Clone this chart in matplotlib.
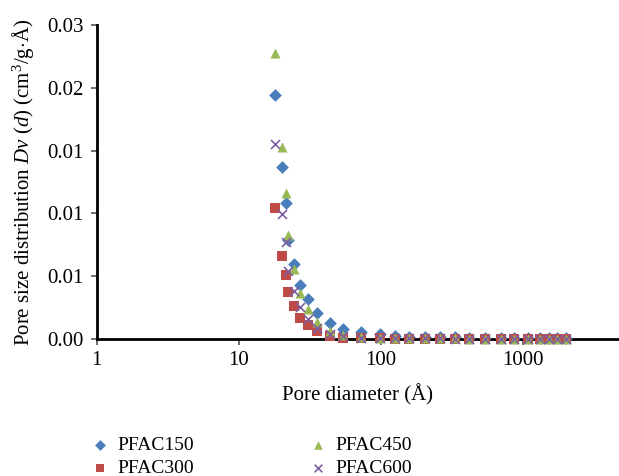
import matplotlib
matplotlib.use("Agg")
import matplotlib.pyplot as plt
from matplotlib.ticker import FixedLocator, FixedFormatter, NullLocator

plt.rcParams['font.family'] = ['Liberation Serif', 'DejaVu Serif']
plt.rcParams['mathtext.fontset'] = 'custom'
plt.rcParams['mathtext.rm'] = 'Liberation Serif'
plt.rcParams['mathtext.it'] = 'Liberation Serif:italic'

# pore diameter (angstrom)
diam = [18.1, 20.0, 21.3, 22.3, 24.6, 27.1, 30.4, 35.2, 43.4, 54.4, 72.8, 97.5,
        126, 158, 205, 261, 333, 418, 541, 691, 866, 1086, 1319, 1525, 1737, 2008]

pfac150 = [0.01945, 0.01369, 0.01083, 0.0079, 0.00597, 0.0043, 0.00318, 0.00209,
           0.0013, 0.00082, 0.00052, 0.00036, 0.00024, 0.00018, 0.00015, 0.00013,
           0.00012, 0.00011, 0.0001, 0.0001, 0.00009, 0.00008, 0.00008, 0.00007,
           0.00007, 0.00006]
pfac300 = [0.01043, 0.0066, 0.00512, 0.00372, 0.00265, 0.0017, 0.00111, 0.00064,
           0.00024, 0.0001, 0.00005, 0.00004, 0.00003, 0.00003, 0.00002, 0.00002,
           0.00002, 0.00002, 0.00001, 0.00001, 0.00001, 0.00001, 0.00001, 0.00001,
           0.00001, 0.00001]
pfac450 = [0.02277, 0.01526, 0.0116, 0.00828, 0.00555, 0.00364, 0.00239, 0.00138,
           0.00066, 0.0003, 0.00015, 0.0001, 0.00008, 0.00006, 0.00005, 0.00004,
           0.00004, 0.00003, 0.00003, 0.00003, 0.00002, 0.00002, 0.00002, 0.00002,
           0.00002, 0.00002]
pfac600 = [0.0155, 0.00995, 0.00772, 0.00544, 0.00385, 0.00257, 0.00159, 0.00085,
           0.0004, 0.0002, 0.0001, 0.00008, 0.00006, 0.00005, 0.00004, 0.00004,
           0.00003, 0.00003, 0.00003, 0.00002, 0.00002, 0.00002, 0.00002, 0.00002,
           0.00002, 0.00002]

labels = ["PFAC150", "PFAC300", "PFAC450", "PFAC600"]
colors = ["#4a7ebb", "#be4b48", "#98b954", "#7d60a0"]
markers = ["D", "s", "^", "x"]
sizes = [42, 48, 52, 42]

xticks = [1, 10, 100, 1000]
yticks = [0, 0.005, 0.01, 0.015, 0.02, 0.025]

fig = plt.figure(figsize=(6.19, 4.76), dpi=100)
ax = fig.add_axes([0.156, 0.288, 0.844, 0.659])

for vals, lab, c, m, s in zip([pfac150, pfac300, pfac450, pfac600], labels, colors, markers, sizes):
    if m == "x":
        ax.scatter(diam, vals, marker=m, s=s, color=c, linewidths=1.2, label=lab, clip_on=False, zorder=3)
    else:
        ax.scatter(diam, vals, marker=m, s=s, color=c, linewidths=0, label=lab, clip_on=False, zorder=3)

ax.set_xscale("log")
ax.set_xlim(1, 4700)
ax.set_ylim(0, 0.025)
ax.xaxis.set_major_locator(FixedLocator(xticks))
ax.xaxis.set_major_formatter(FixedFormatter([str(t) for t in xticks]))
ax.xaxis.set_minor_locator(NullLocator())
ax.set_yticks(yticks)
ax.set_yticklabels([f"{t:.2f}" for t in yticks])

for side in ["top", "right"]:
    ax.spines[side].set_visible(False)
for side in ["left", "bottom"]:
    ax.spines[side].set_linewidth(2)
ax.tick_params(axis="both", direction="out", length=4, width=1.2, color="#555555",
               labelsize=15, pad=5)

ax.set_xlabel("Pore diameter (Å)", fontsize=15, labelpad=10)
ax.set_ylabel(r"Pore size distribution $Dv$ $(d)$ (cm$^3$/g$\cdot$Å)", fontsize=15, labelpad=8)

fig.legend(loc="upper left", bbox_to_anchor=(0.13, 0.1), ncol=2, frameon=False,
           fontsize=14, handletextpad=0.3, columnspacing=5.75, borderaxespad=0,
           labelspacing=0.3, handlelength=1.2, scatterpoints=1, markerscale=0.85)

fig.savefig("out.png", dpi=100)
